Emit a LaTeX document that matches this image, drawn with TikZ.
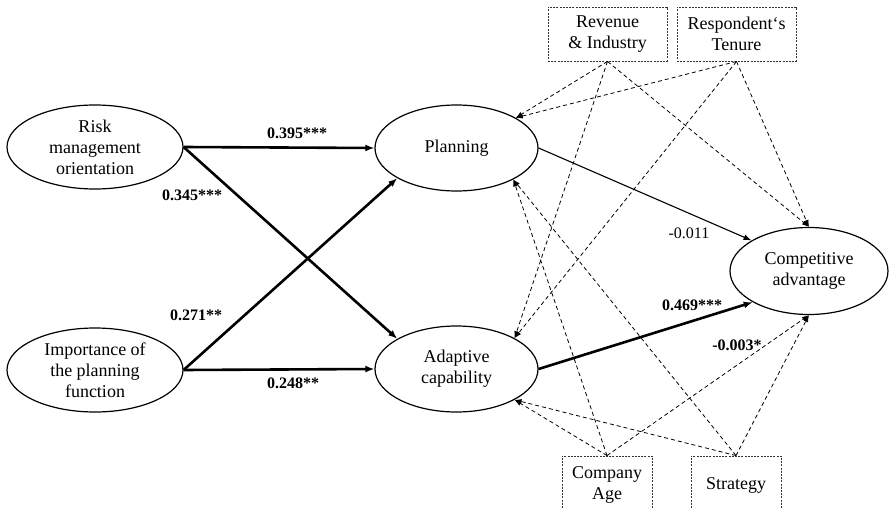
\documentclass[tikz,border=0pt]{standalone}
\usepackage{fontspec}
\setmainfont{Liberation Serif}
\usetikzlibrary{shapes.geometric,arrows.meta}
\begin{document}
\begin{tikzpicture}[x=1pt,y=-1pt,
  latent/.style={ellipse,draw,line width=1.2pt,inner sep=0pt,align=center,font=\fontsize{18}{21}\selectfont},
  ctrl/.style={draw=black!80,dash pattern=on 2pt off 1.2pt,line width=0.9pt,inner sep=0pt,align=center,font=\fontsize{18}{21}\selectfont},
  strong/.style={line width=2.6pt,-{Latex[length=9pt,width=7pt]}},
  weak/.style={line width=1.1pt,-{Latex[length=8pt,width=6pt]}},
  ctrlpath/.style={dash pattern=on 4pt off 3pt,line width=0.8pt,-{Latex[length=7pt,width=5pt]}},
  coef/.style={font=\fontsize{16}{18}\selectfont\bfseries,inner sep=0pt},
  coefn/.style={font=\fontsize{16}{18}\selectfont,inner sep=0pt}]
\useasboundingbox (0,0) rectangle (889,508);
\clip (0,0) rectangle (889,508);
\fill[white] (0,0) rectangle (889,508);

% latent variables
\node[latent,minimum width=176,minimum height=84] (risk) at (95,147) {Risk\\management\\orientation};
\node[latent,minimum width=176,minimum height=84] (imp) at (95,370) {Importance of\\the planning\\function};
\node[latent,minimum width=163,minimum height=86] (plan) at (456.5,148) {Planning};
\node[latent,minimum width=163,minimum height=86] (adapt) at (456.5,369) {Adaptive\\capability};
\node[latent,minimum width=158,minimum height=87] (comp) at (809,271) {Competitive\\advantage};

% control variables
\node[ctrl,minimum width=119,minimum height=54] (rev) at (607.5,34) {Revenue\\\& Industry};
\node[ctrl,minimum width=119,minimum height=54] (ten) at (736.5,34) {Respondent‘s\\Tenure};
\node[ctrl,minimum width=90,minimum height=58] (age) at (607,485) {Company\\Age};
\node[ctrl,minimum width=90,minimum height=58] (strat) at (736,485) {Strategy};

% structural paths
\draw[strong] (risk.east) -- (plan.west);
\draw[strong] (risk.east) -- (adapt.153);
\draw[strong] (imp.east) -- (plan.207);
\draw[strong] (imp.east) -- (adapt.west);
\draw[weak] (plan.east) -- (comp.152.5);
\draw[strong] (adapt.east) -- (comp.209.7);

% control paths
\draw[ctrlpath] (rev.south) -- (plan.27.5);
\draw[ctrlpath] (ten.south) -- (plan.27.5);
\draw[ctrlpath] (rev.south) -- (adapt.28.7);
\draw[ctrlpath] (ten.south) -- (adapt.28.7);
\draw[ctrlpath] (rev.south) -- (comp.north);
\draw[ctrlpath] (ten.south) -- (comp.north);
\draw[ctrlpath] (age.north) -- (plan.331.7);
\draw[ctrlpath] (strat.north) -- (plan.331.7);
\draw[ctrlpath] (age.north) -- (adapt.332.9);
\draw[ctrlpath] (strat.north) -- (adapt.332.9);
\draw[ctrlpath] (age.north) -- (comp.south);
\draw[ctrlpath] (strat.north) -- (comp.south);

% coefficients
\node[coef] (c1) at (297,133) {0.395***};
\node[coef] (c2) at (192,195) {0.345***};
\node[coef] (c3) at (196,315) {0.271**};
\node[coef] (c4) at (293,383) {0.248**};
\node[coefn] (c5) at (689,233) {-0.011};
\node[coef] (c6) at (692,305) {0.469***};
\node[coef] (c7) at (737,345) {-0.003*};
\end{tikzpicture}
\end{document}
